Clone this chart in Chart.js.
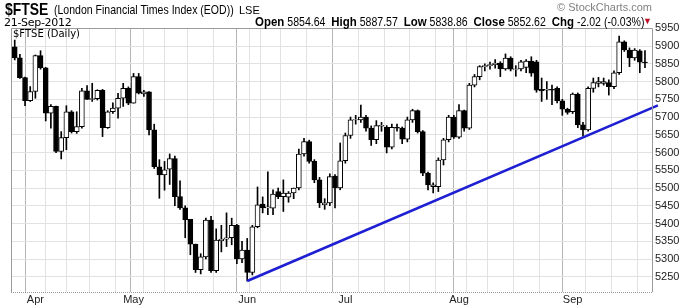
<!DOCTYPE html>
<html><head><meta charset="utf-8">
<script src="https://cdn.jsdelivr.net/npm/chart.js@4"></script>
<style>
html,body{margin:0;padding:0;background:#fff;width:695px;height:306px;overflow:hidden}
#wrap{position:relative;width:695px;height:306px;font-family:"Liberation Sans",Arial,sans-serif}
canvas{position:absolute;left:0;top:0}
.t{position:absolute;white-space:nowrap;color:#000;line-height:1;transform-origin:0 0}
</style></head><body>
<div id="wrap">
<canvas id="c" width="695" height="306"></canvas>
<div class="t" style="left:5px;top:1px;font-size:17px;font-weight:bold;transform:scaleX(0.82)">$FTSE</div>
<div class="t" style="left:54px;top:3px;font-size:13px;transform:scaleX(0.81)">(London Financial Times Index (EOD))</div>
<div class="t" style="left:239px;top:5px;font-size:11px">LSE</div>
<div class="t" style="left:4px;top:17px;font-size:11px;font-family:'DejaVu Sans';letter-spacing:-0.3px">21-Sep-2012</div>
<div class="t" style="right:43px;top:2px;font-size:11px;color:#808080">© StockCharts.com</div>
<div class="t" style="right:51px;top:15px;font-size:12px;transform-origin:100% 0;transform:scaleX(0.88)"><b style="font-size:13px">Open</b> 5854.64 &nbsp;<b style="font-size:13px">High</b> 5887.57 &nbsp;<b style="font-size:13px">Low</b> 5838.86 &nbsp;<b style="font-size:13px">Close</b> 5852.62 &nbsp;<b style="font-size:13px">Chg</b> -2.02 (-0.03%)</div>
<div class="t" style="right:43px;top:17px;font-size:9px;color:#c0102a">▼</div>
<div class="t" style="left:13px;top:29px;font-size:10px;font-family:'DejaVu Sans'">$FTSE (Daily)</div>
</div>
<script>
const dates = [
"2012-03-27","2012-03-28","2012-03-29","2012-03-30",
"2012-04-02","2012-04-03","2012-04-04","2012-04-05","2012-04-10","2012-04-11","2012-04-12","2012-04-13","2012-04-16","2012-04-17","2012-04-18","2012-04-19","2012-04-20","2012-04-23","2012-04-24","2012-04-25","2012-04-26","2012-04-27","2012-04-30",
"2012-05-01","2012-05-02","2012-05-03","2012-05-04","2012-05-08","2012-05-09","2012-05-10","2012-05-11","2012-05-14","2012-05-15","2012-05-16","2012-05-17","2012-05-18","2012-05-21","2012-05-22","2012-05-23","2012-05-24","2012-05-25","2012-05-28","2012-05-29","2012-05-30","2012-05-31",
"2012-06-01","2012-06-06","2012-06-07","2012-06-08","2012-06-11","2012-06-12","2012-06-13","2012-06-14","2012-06-15","2012-06-18","2012-06-19","2012-06-20","2012-06-21","2012-06-22","2012-06-25","2012-06-26","2012-06-27","2012-06-28","2012-06-29",
"2012-07-02","2012-07-03","2012-07-04","2012-07-05","2012-07-06","2012-07-09","2012-07-10","2012-07-11","2012-07-12","2012-07-13","2012-07-16","2012-07-17","2012-07-18","2012-07-19","2012-07-20","2012-07-23","2012-07-24","2012-07-25","2012-07-26","2012-07-27","2012-07-30","2012-07-31",
"2012-08-01","2012-08-02","2012-08-03","2012-08-06","2012-08-07","2012-08-08","2012-08-09","2012-08-10","2012-08-13","2012-08-14","2012-08-15","2012-08-16","2012-08-17","2012-08-20","2012-08-21","2012-08-22","2012-08-23","2012-08-24","2012-08-28","2012-08-29","2012-08-30","2012-08-31",
"2012-09-03","2012-09-04","2012-09-05","2012-09-06","2012-09-07","2012-09-10","2012-09-11","2012-09-12","2012-09-13","2012-09-14","2012-09-17","2012-09-18","2012-09-19","2012-09-20","2012-09-21"];

const opens = [5898,5867,5811,5746,
5772,5873,5839,5711,5730,5603,5642,5715,5659,5673,5774,5750,5752,5775,5670,5715,5725,5753,5781,
5739,5814,5765,5771,5664,5560,5537,5553,5583,5476,5444,5412,5342,5270,5306,5410,5267,5352,5356,5360,5395,5300,
5325,5262,5391,5455,5444,5443,5490,5476,5474,5486,5500,5596,5631,5575,5523,5453,5458,5534,5500,
5577,5648,5692,5692,5700,5669,5636,5674,5671,5615,5671,5669,5638,5692,5718,5659,5542,5504,5504,5579,5636,5700,
5643,5718,5669,5790,5814,5842,5845,5848,5852,5836,5866,5834,5836,5840,5858,5856,5778,5776,5778,5781,5746,5722,
5715,5765,5678,5664,5781,5795,5795,5797,5786,5825,5912,5889,5867,5887,5854.64];
const highs = [5917,5877,5813,5786,
5875,5887,5840,5735,5731,5659,5732,5718,5715,5781,5789,5795,5777,5778,5718,5740,5767,5795,5785,
5823,5823,5775,5772,5680,5580,5575,5596,5590,5520,5450,5412,5342,5315,5415,5420,5385,5395,5430,5415,5398,5350,
5358,5395,5503,5475,5546,5495,5500,5523,5490,5500,5610,5640,5635,5580,5530,5470,5540,5538,5627,
5655,5700,5705,5734,5705,5675,5690,5685,5676,5680,5680,5672,5700,5722,5720,5662,5545,5515,5585,5640,5705,5705,
5735,5720,5795,5820,5845,5850,5855,5862,5856,5878,5870,5845,5860,5862,5870,5860,5810,5800,5790,5785,5750,5725,
5768,5768,5685,5785,5810,5812,5810,5805,5830,5928,5915,5895,5893,5890,5887.57];
const lows = [5861,5809,5732,5744,
5753,5835,5689,5669,5600,5582,5608,5655,5654,5669,5750,5744,5748,5645,5668,5710,5697,5730,5735,
5739,5765,5758,5650,5555,5471,5494,5510,5450,5440,5360,5312,5262,5258,5300,5262,5262,5320,5335,5340,5287,5290,
5238,5255,5388,5430,5425,5425,5470,5434,5460,5470,5495,5590,5570,5515,5445,5440,5450,5444,5495,
5570,5640,5680,5685,5660,5620,5625,5660,5599,5610,5660,5625,5630,5685,5655,5535,5495,5486,5490,5565,5630,5640,
5640,5660,5665,5785,5805,5830,5835,5838,5814,5832,5830,5815,5830,5825,5815,5770,5744,5750,5735,5740,5705,5708,
5710,5670,5647,5660,5770,5785,5790,5762,5780,5820,5885,5842,5860,5825,5838.86];
const closes = [5867,5811,5746,5772,
5873,5839,5711,5730,5603,5642,5715,5659,5673,5774,5750,5752,5775,5670,5715,5725,5753,5781,5739,
5814,5767,5771,5664,5560,5537,5551,5583,5476,5444,5410,5342,5270,5306,5410,5267,5353,5356,5360,5395,5300,5325,
5262,5391,5453,5444,5447,5483,5476,5486,5486,5500,5596,5631,5575,5523,5458,5458,5532,5500,5577,
5648,5692,5693,5700,5669,5636,5676,5677,5615,5671,5669,5638,5692,5718,5659,5542,5509,5509,5579,5636,5700,5643,
5718,5669,5790,5814,5842,5845,5848,5852,5836,5866,5835,5836,5856,5858,5824,5776,5774,5778,5776,5746,5722,5713,
5765,5678,5664,5781,5797,5800,5800,5786,5825,5912,5889,5867,5889,5855,5852.62];

const yTicks = [5250,5300,5350,5400,5450,5500,5550,5600,5650,5700,5750,5800,5850,5900,5950];
const monthNames = ["Jan","Feb","Mar","Apr","May","Jun","Jul","Aug","Sep","Oct","Nov","Dec"];
// trend line: trading-day index (1 = first date) and price
const trendDay = [46, 125.5];
const trendPrice = [5238, 5733];

const monthStarts = new Set();
const weekStarts = [];
dates.forEach((d,i)=>{
  const cur = new Date(d+"T00:00:00Z"), prev = i ? new Date(dates[i-1]+"T00:00:00Z") : null;
  if (prev && cur.getUTCMonth() !== prev.getUTCMonth()) monthStarts.add(i+1);
  if (prev && cur.getUTCDay() < prev.getUTCDay()) weekStarts.push(i+1);
});
const xTickVals = Array.from(new Set([...weekStarts, ...monthStarts])).sort((a,b)=>a-b);

const bodies = dates.map((d,i)=>({x:i+1, y:[opens[i], closes[i]]}));
const wicks = dates.map((d,i)=>({x:i+1, y:[lows[i], highs[i]]}));

const frame = {
  id:'frame',
  afterDraw(chart){
    const {ctx, chartArea:a} = chart;
    ctx.save();
    ctx.strokeStyle = '#9a9a9a'; ctx.lineWidth = 1;
    ctx.beginPath();
    ctx.moveTo(Math.round(a.left)+0.5, a.bottom); ctx.lineTo(Math.round(a.left)+0.5, Math.round(a.top)+0.5);
    ctx.lineTo(Math.round(a.right)+0.5, Math.round(a.top)+0.5); ctx.lineTo(Math.round(a.right)+0.5, a.bottom);
    ctx.stroke();
    ctx.setLineDash([1,1]);
    ctx.beginPath(); ctx.moveTo(a.left, Math.round(a.bottom)+0.5); ctx.lineTo(a.right, Math.round(a.bottom)+0.5); ctx.stroke();
    ctx.restore();
  }
};

new Chart(document.getElementById('c'), {
  type:'bar',
  data:{datasets:[
    {type:'line', data: trendDay.map((x,i)=>({x, y:trendPrice[i]})), borderColor:'#1e1ed2', borderWidth:2.6, pointRadius:0, clip:false, order:0},
    {data: bodies, backgroundColor: closes.map((c,i)=> c < opens[i] ? '#000' : '#fff'), borderColor:'#000', borderWidth:1, borderSkipped:false, barThickness:5, grouped:false, order:1},
    {data: wicks, backgroundColor:'#000', borderWidth:0, barThickness:1, grouped:false, order:2}
  ]},
  options:{
    responsive:false, animation:false, events:[],
    layout:{padding:{left:11, top:28, right:0, bottom:0}},
    plugins:{legend:{display:false}, tooltip:{enabled:false}},
    scales:{
      x:{type:'linear', min:0.28, max:124.36, offset:false,
        afterBuildTicks: s => { s.ticks = xTickVals.map(v=>({value:v})); },
        afterFit: s => { s.height = 14; },
        ticks:{autoSkip:false, maxRotation:0, padding:1, color:'#222', font:{family:'Liberation Sans', size:11},
          callback: v => monthStarts.has(v) ? monthNames[new Date(dates[v-1]+"T00:00:00Z").getUTCMonth()] : ''},
        grid:{drawTicks:false, color: c => (c.tick && monthStarts.has(c.tick.value)) ? '#b5b5b5' : '#e2e2e2'},
        border:{display:false}
      },
      y:{type:'linear', position:'right', min:5207, max:5951,
        afterBuildTicks: s => { s.ticks = yTicks.map(v=>({value:v})); },
        afterFit: s => { s.width = 43; },
        ticks:{padding:3, color:'#222', font:{family:'Liberation Sans', size:11}, callback: v => String(v)},
        grid:{drawTicks:false, color:'#e2e2e2'},
        border:{display:false}
      }
    }
  },
  plugins:[frame]
});
</script>
</body></html>
